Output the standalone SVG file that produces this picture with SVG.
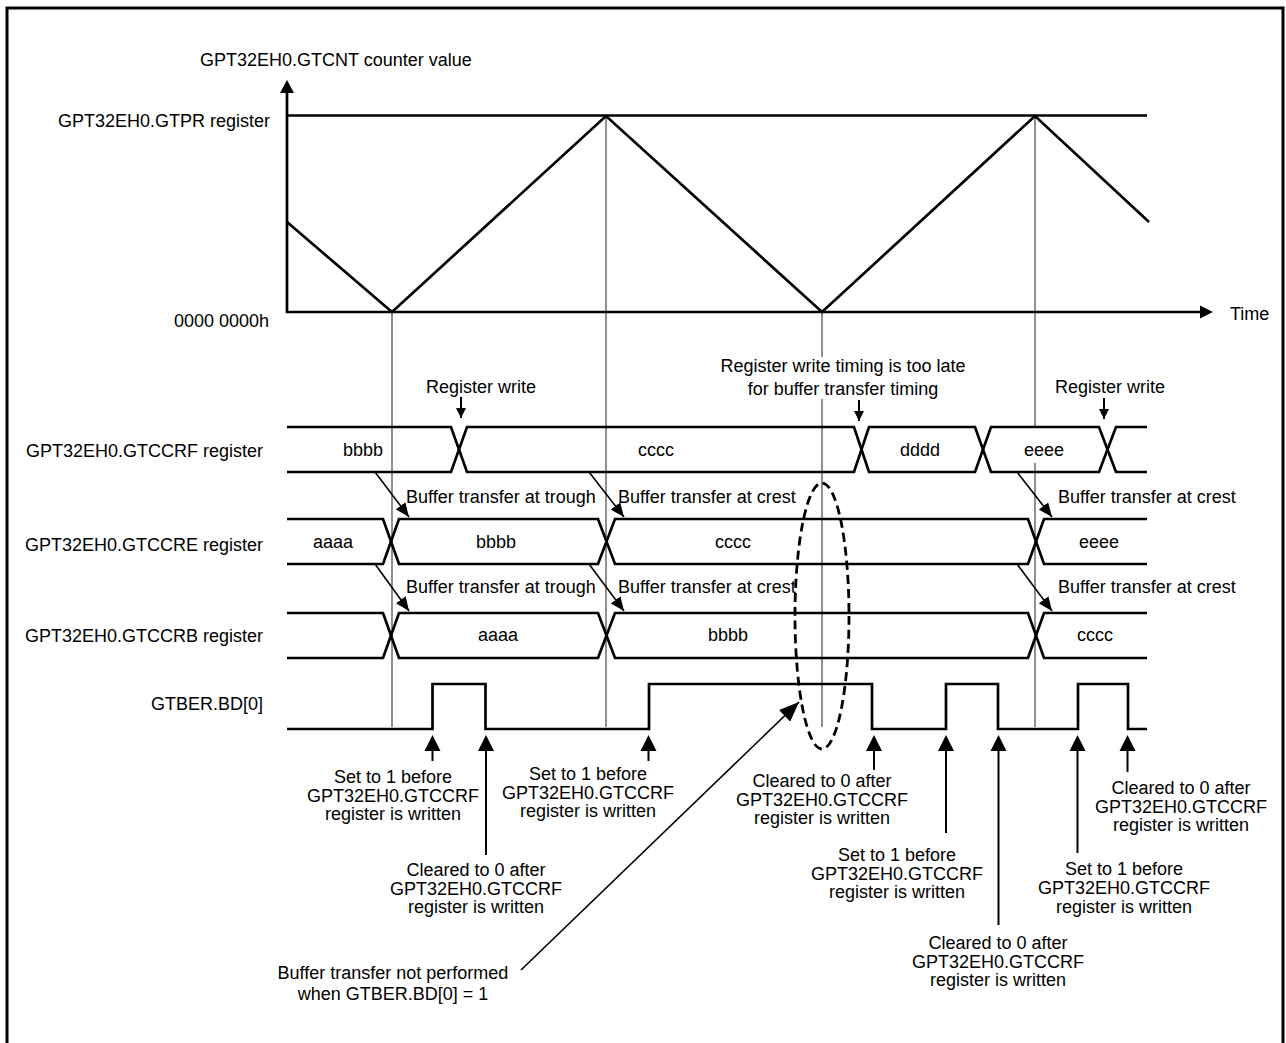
<svg xmlns="http://www.w3.org/2000/svg" width="1286" height="1043" viewBox="0 0 1286 1043">
<style>
text{font-family:"Liberation Sans",Arial,sans-serif;font-size:18px;fill:#000}
.r{text-anchor:end}.m{text-anchor:middle}
.sig{fill:none;stroke:#000;stroke-width:2.7;stroke-linejoin:miter}
.thin{fill:none;stroke:#555;stroke-width:1.3}
.ln{fill:none;stroke:#000;stroke-width:1.6}
.ln2{fill:none;stroke:#000;stroke-width:2}
.dash{fill:none;stroke:#000;stroke-width:2.8;stroke-dasharray:9 5}
</style>
<defs>
<marker id="ah" markerUnits="userSpaceOnUse" viewBox="0 0 14 12" refX="14" refY="6" markerWidth="14" markerHeight="12" orient="auto"><path d="M0,0L14,6L0,12z" fill="#000"/></marker>
<marker id="ahBig" markerUnits="userSpaceOnUse" viewBox="0 0 20 16" refX="20" refY="8" markerWidth="20" markerHeight="16" orient="auto"><path d="M0,0L20,8L0,16z" fill="#000"/></marker>
<marker id="ahSm" markerUnits="userSpaceOnUse" viewBox="0 0 10 10" refX="10" refY="5" markerWidth="10" markerHeight="10" orient="auto"><path d="M0,0L10,5L0,10z" fill="#000"/></marker>
<path id="up" d="M0,0L8,16L-8,16z" fill="#000"/>
</defs>
<rect width="1286" height="1043" fill="#fff"/>
<rect x="7" y="8" width="1276" height="1100" fill="none" stroke="#000" stroke-width="3"/>

<g id="guides">
<path class="thin" d="M392,312V727M606,116V727M822,312V357M822,399V727M1035,116V427M1035,463V727"/>
</g>

<g id="counter-chart">
<path class="sig" d="M287,90V312H1200"/>
<path d="M287,80L280,93H294z" fill="#000"/>
<path d="M1213,312L1200,305.5V318.5z" fill="#000"/>
<path class="sig" d="M287,115.5H1147"/>
<path class="sig" d="M287,222L392,312L606,116L822,312L1035,116L1149,222"/>
<text x="200" y="66">GPT32EH0.GTCNT counter value</text>
<text class="r" x="270" y="127">GPT32EH0.GTPR register</text>
<text class="r" x="269" y="327">0000 0000h</text>
<text x="1230" y="320">Time</text>
</g>

<g id="row-gtccrf">
<path class="sig" d="M287,427H451L467,472H854L869,427H975L991,472H1099L1116,427H1147"/>
<path class="sig" d="M287,472H451L467,427H854L869,472H975L991,427H1099L1116,472H1147"/>
<text class="r" x="263" y="457">GPT32EH0.GTCCRF register</text>
<text class="m" x="363" y="456">bbbb</text>
<text class="m" x="656" y="456">cccc</text>
<text class="m" x="920" y="456">dddd</text>
<text class="m" x="1044" y="456">eeee</text>
</g>

<g id="row-gtccre">
<path class="sig" d="M287,519H383L399,564H598L615,519H1028L1044,564H1147"/>
<path class="sig" d="M287,564H383L399,519H598L615,564H1028L1044,519H1147"/>
<text class="r" x="263" y="551">GPT32EH0.GTCCRE register</text>
<text class="m" x="333" y="548">aaaa</text>
<text class="m" x="496" y="548">bbbb</text>
<text class="m" x="733" y="548">cccc</text>
<text class="m" x="1099" y="548">eeee</text>
</g>

<g id="row-gtccrb">
<path class="sig" d="M287,613H383L399,658H598L615,613H1028L1044,658H1147"/>
<path class="sig" d="M287,658H383L399,613H598L615,658H1028L1044,613H1147"/>
<text class="r" x="263" y="642">GPT32EH0.GTCCRB register</text>
<text class="m" x="498" y="641">aaaa</text>
<text class="m" x="728" y="641">bbbb</text>
<text class="m" x="1095" y="641">cccc</text>
</g>

<g id="row-gtber">
<path class="sig" d="M287,729H432.5V684H485.5V729H649V684H872V729H946V684H998V729H1078V684H1128V729H1147"/>
<text class="r" x="263" y="710">GTBER.BD[0]</text>
</g>

<g id="ellipse">
<ellipse class="dash" cx="822" cy="616" rx="27" ry="133"/>
</g>

<g id="connectors">
<path class="ln2" d="M461,397V418" marker-end="url(#ahSm)"/>
<path class="ln2" d="M859,400V421" marker-end="url(#ahSm)"/>
<path class="ln2" d="M1104,398V419" marker-end="url(#ahSm)"/>
<path class="ln" d="M375,472L409,517" marker-end="url(#ah)"/>
<path class="ln" d="M589,472L624,517" marker-end="url(#ah)"/>
<path class="ln" d="M1017,472L1052,517" marker-end="url(#ah)"/>
<path class="ln" d="M375,564L409,611" marker-end="url(#ah)"/>
<path class="ln" d="M589,564L624,611" marker-end="url(#ah)"/>
<path class="ln" d="M1017,564L1052,611" marker-end="url(#ah)"/>
<path class="ln" d="M521,970L799,702" marker-end="url(#ahBig)"/>
<path class="ln2" d="M432.5,750V761M486,750V855M648.5,750V761M874,750V770M946,750V833M998.5,750V925M1077.5,750V853M1127.5,750V772"/>
<use href="#up" x="432.5" y="735"/>
<use href="#up" x="486" y="735"/>
<use href="#up" x="648.5" y="735"/>
<use href="#up" x="874" y="735"/>
<use href="#up" x="946" y="735"/>
<use href="#up" x="998.5" y="735"/>
<use href="#up" x="1077.5" y="735"/>
<use href="#up" x="1127.5" y="735"/>
</g>

<g id="labels-top">
<text class="m" x="481" y="393">Register write</text>
<text class="m" x="843" y="372">Register write timing is too late</text>
<text class="m" x="843" y="395">for buffer transfer timing</text>
<text class="m" x="1110" y="393">Register write</text>
<text x="406" y="503">Buffer transfer at trough</text>
<text x="618" y="503">Buffer transfer at crest</text>
<text x="1058" y="503">Buffer transfer at crest</text>
<text x="406" y="593">Buffer transfer at trough</text>
<text x="618" y="593">Buffer transfer at crest</text>
<text x="1058" y="593">Buffer transfer at crest</text>
</g>

<g id="labels-bottom" class="m">
<text class="m" x="393" y="783">Set to 1 before</text>
<text class="m" x="393" y="802">GPT32EH0.GTCCRF</text>
<text class="m" x="393" y="820">register is written</text>
<text class="m" x="476" y="876">Cleared to 0 after</text>
<text class="m" x="476" y="895">GPT32EH0.GTCCRF</text>
<text class="m" x="476" y="913">register is written</text>
<text class="m" x="588" y="780">Set to 1 before</text>
<text class="m" x="588" y="799">GPT32EH0.GTCCRF</text>
<text class="m" x="588" y="817">register is written</text>
<text class="m" x="822" y="787">Cleared to 0 after</text>
<text class="m" x="822" y="806">GPT32EH0.GTCCRF</text>
<text class="m" x="822" y="824">register is written</text>
<text class="m" x="897" y="861">Set to 1 before</text>
<text class="m" x="897" y="880">GPT32EH0.GTCCRF</text>
<text class="m" x="897" y="898">register is written</text>
<text class="m" x="998" y="949">Cleared to 0 after</text>
<text class="m" x="998" y="968">GPT32EH0.GTCCRF</text>
<text class="m" x="998" y="986">register is written</text>
<text class="m" x="1124" y="875">Set to 1 before</text>
<text class="m" x="1124" y="894">GPT32EH0.GTCCRF</text>
<text class="m" x="1124" y="913">register is written</text>
<text class="m" x="1181" y="794">Cleared to 0 after</text>
<text class="m" x="1181" y="813">GPT32EH0.GTCCRF</text>
<text class="m" x="1181" y="831">register is written</text>
<text class="m" x="393" y="979">Buffer transfer not performed</text>
<text class="m" x="393" y="1000">when GTBER.BD[0] = 1</text>
</g>
</svg>
